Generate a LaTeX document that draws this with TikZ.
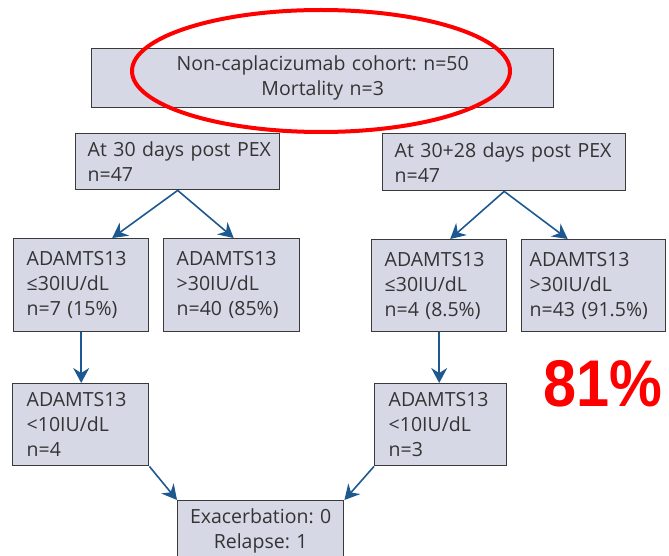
\documentclass[tikz,border=0pt]{standalone}
\usepackage{fontspec}
\setmainfont{Open Sans}
\newfontfamily\bigfont{Liberation Sans}
\definecolor{boxfill}{RGB}{214,216,230}
\definecolor{boxline}{RGB}{58,58,58}
\definecolor{boxtext}{RGB}{52,52,52}
\definecolor{flowblue}{RGB}{30,88,145}
\definecolor{markred}{RGB}{255,0,0}
\usetikzlibrary{arrows.meta,positioning}
\frenchspacing

\begin{document}
\begin{tikzpicture}[x=1pt, y=-1pt,
      arr/.style={-{Stealth[length=15pt, width=16pt, inset=5pt]}, line width=1.6pt, flowblue},
      box/.style={draw=boxline, line width=1.4pt, fill=boxfill, text=boxtext,
                  anchor=north west, inner xsep=13pt, inner ysep=0pt, align=left,
                  font=\fontsize{19.5}{25}\selectfont},
      cbox/.style={box, align=center}
    ]
    \clip (0,0) rectangle (669,556);
    % TOP: whole cohort
    \node[cbox, text width=436pt, minimum height=59pt] (cohort) at (91,48)
      {Non-caplacizumab~cohort:~n=50\\Mortality~n=3};
    % SECOND ROW: the two time points
    \node[box, inner xsep=12pt, text width=180pt, minimum height=56pt] (day30) at (75,133)
      {At~30~days~post~PEX\\n=47};
    \node[box, inner xsep=12pt, text width=219pt, minimum height=57pt] (day58) at (382,133)
      {At~30+28~days~post~PEX\\n=47};
    % THIRD ROW: ADAMTS13 split
    \node[box, text width=109pt, minimum height=93pt] (lowA) at (13,238)
      {ADAMTS13\\≤30IU/dL\\n=7~(15\%)};
    \node[box, text width=110pt, minimum height=93pt] (highA) at (163,238)
      {ADAMTS13\\>30IU/dL\\n=40~(85\%)};
    \node[box, text width=109pt, minimum height=92pt] (lowB) at (371,239)
      {ADAMTS13\\≤30IU/dL\\n=4~(8.5\%)};
    \node[box, inner xsep=8pt, text width=128pt, minimum height=92pt] (highB) at (521,239)
      {ADAMTS13\\>30IU/dL\\n=43~(91.5\%)};
    % FOURTH ROW: below 10
    \node[box, inner xsep=14pt, text width=108pt, minimum height=82pt] (tinyA) at (12,383)
      {ADAMTS13\\<10IU/dL\\n=4};
    \node[box, inner xsep=14pt, text width=104pt, minimum height=82pt] (tinyB) at (374,383)
      {ADAMTS13\\<10IU/dL\\n=3};
    % BOTTOM: outcome
    \node[cbox, inner xsep=6pt, text width=154pt, minimum height=60pt] (outcome) at (177,500)
      {Exacerbation:~0\\Relapse:~1};
    % connectors
    \draw[arr] (day30.south) -- ([xshift=31pt]lowA.north);
    \draw[arr] (day30.south) -- ([xshift=2pt]highA.north);
    \draw[arr] (day58.south) -- ([xshift=11pt]lowB.north);
    \draw[arr] (day58.south) -- ([xshift=-26pt]highB.north);
    \draw[arr] (lowA.south) -- (lowA.south |- tinyA.north);
    \draw[arr] (lowB.south) -- (lowB.south |- tinyB.north);
    \draw[arr] (tinyA.south east) -- (outcome.north west);
    \draw[arr] (tinyB.south west) -- (outcome.north east);
    % red marks
    \draw[markred, line width=4pt] (321,71) ellipse [x radius=189pt, y radius=61pt];
    \node[text=markred, font=\bigfont\bfseries\fontsize{66}{66}\selectfont, xscale=0.9, inner sep=0pt] (share) at (603,384) {81\%};
  \end{tikzpicture}
\end{document}
